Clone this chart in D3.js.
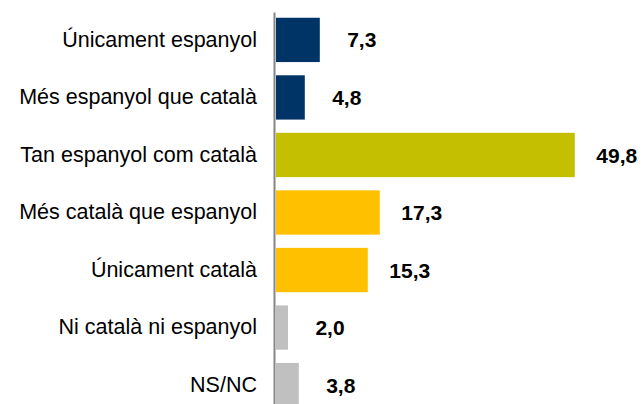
<!DOCTYPE html>
<html>
<head>
<meta charset="utf-8">
<script src="https://cdn.jsdelivr.net/npm/d3@7"></script>
<style>
    body { margin: 0; background: #fff; }
    text { font-family: Arial, "Liberation Sans", sans-serif; }
</style>
</head>
<body>
<div id="chart"></div>
<script>
// data
var categories = ["Únicament espanyol", "Més espanyol que català", "Tan espanyol com català",
    "Més català que espanyol", "Únicament català", "Ni català ni espanyol", "NS/NC"];
var values = [7.3, 4.8, 49.8, 17.3, 15.3, 2.0, 3.8];
var colors = ["#003366", "#003366", "#c4bf00", "#ffc000", "#ffc000", "#c0c0c0", "#c0c0c0"];

// core settings
var cfg = {
    w: 644,
    h: 404,
    x0: 276, // left edge of bars
    xw: 300, // width for 50 units
    y0: 12,
    y1: 413,
    labelgap: 18, // gap between category labels and axis
    valoffset: 42 // distance from bar end to centre of value label
};

var data = categories.map(function (c, i) {
    return {name: c, value: values[i], color: colors[i]};
});

var svg = d3.select("#chart").append("svg")
        .attr("width", cfg.w).attr("height", cfg.h);

var xscale = d3.scaleLinear().domain([0, 50]).range([cfg.x0, cfg.x0 + cfg.xw]);
var yscale = d3.scaleBand().domain(categories).range([cfg.y0, cfg.y1])
        .paddingInner(0.23).paddingOuter(0.1);

// bars
svg.selectAll(".bar").data(data).enter().append("rect")
        .attr("class", "bar")
        .attr("fill", function (d) { return d.color; })
        .attr("x", xscale(0))
        .attr("y", function (d) { return yscale(d.name); })
        .attr("width", function (d) { return xscale(d.value) - xscale(0); })
        .attr("height", yscale.bandwidth());

// value labels
svg.selectAll(".val").data(data).enter().append("text")
        .attr("class", "val")
        .attr("x", function (d) { return xscale(d.value) + cfg.valoffset; })
        .attr("y", function (d) { return yscale(d.name) + yscale.bandwidth() / 2; })
        .attr("dy", "0.36em")
        .attr("text-anchor", "middle")
        .attr("font-size", "21px")
        .attr("font-weight", "bold")
        .attr("fill", "#000")
        .text(function (d) { return d.value.toFixed(1).replace(".", ","); });

// y axis, labels only
var yaxis = d3.axisLeft(yscale).tickSize(0).tickPadding(cfg.labelgap);
var gg = svg.append("g").attr("class", "yaxis")
        .attr("transform", "translate(" + (cfg.x0 - 1) + ",0)").call(yaxis);
gg.select("path.domain").remove();
gg.selectAll("text")
        .attr("font-size", "21.5px")
        .attr("font-family", "Arial, 'Liberation Sans', sans-serif")
        .attr("fill", "#000");

// vertical axis line
svg.append("line")
        .attr("x1", cfg.x0 - 1.5).attr("x2", cfg.x0 - 1.5)
        .attr("y1", cfg.y0 + 0.5).attr("y2", cfg.h)
        .attr("stroke", "#868686").attr("stroke-width", 2);
</script>
</body>
</html>
